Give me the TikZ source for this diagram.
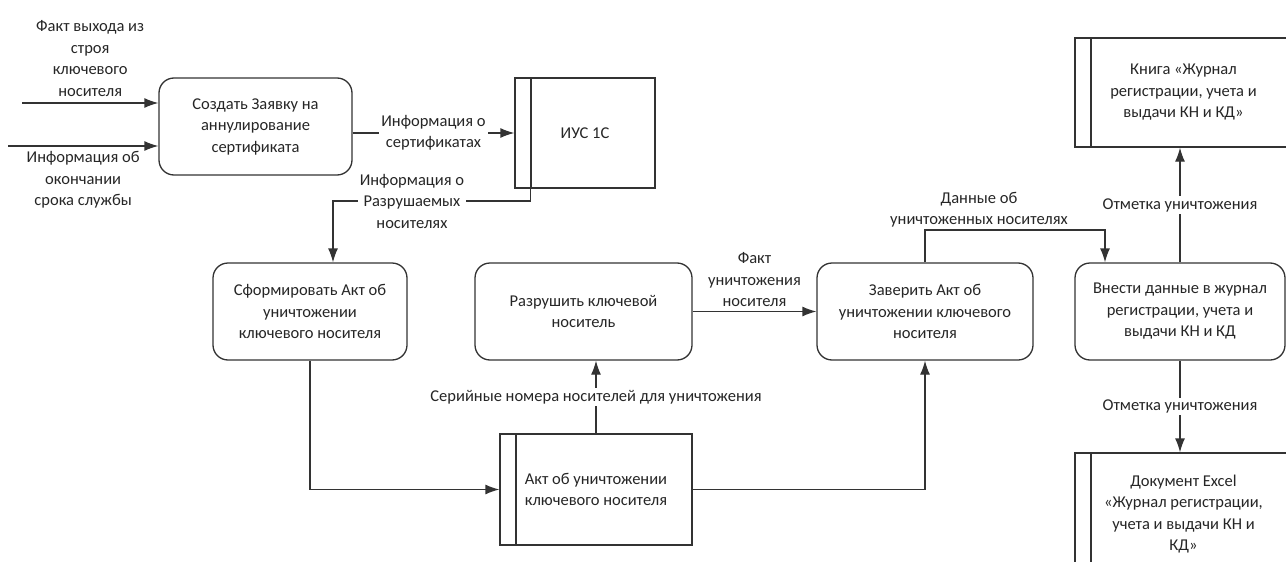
\documentclass[tikz,border=0pt]{standalone}
\usepackage{fontspec}
\setmainfont{Carlito}
\usepackage{tikz}
\usetikzlibrary{arrows.meta}

\begin{document}
\begin{tikzpicture}[x=1pt, y=-1pt, font=\fontsize{16.5}{21.5}\selectfont, text=black!85]
\tikzstyle{process} = [rectangle, rounded corners=15pt, draw=black!80, line width=1.3pt, inner sep=0pt, align=center, fill=white]
\tikzstyle{store} = [rectangle, draw=black!80, line width=1.3pt, inner sep=0pt, align=center, fill=white, path picture={\draw[black!80, line width=1.3pt] ([xshift=16pt]path picture bounding box.north west) -- ([xshift=16pt]path picture bounding box.south west);}]
\tikzstyle{flow} = [draw=black!80, line width=1.3pt, -{Latex[length=14pt, width=10pt]}]
\tikzstyle{note} = [align=center, inner sep=2pt]
\tikzstyle{lbl} = [note, fill=white]

\useasboundingbox (0,0) rectangle (1286,562);
\clip (0,0) rectangle (1286,562);

\node (create) [process, minimum width=193, minimum height=97] at (255.5,126.5) {Создать Заявку на\\аннулирование\\сертификата};
\node (ius)    [store, minimum width=140, minimum height=110] at (585,133) {ИУС 1С};
\node (form)   [process, minimum width=194, minimum height=97] at (310,311.5) {Сформировать Акт об\\уничтожении\\ключевого носителя};
\node (razr)   [process, minimum width=217, minimum height=97] at (583.5,311.5) {Разрушить ключевой\\носитель};
\node (zav)    [process, minimum width=216, minimum height=97] at (925,311.5) {Заверить Акт об\\уничтожении ключевого\\носителя};
\node (vnesti) [process, minimum width=210, minimum height=97] at (1180,311.5) {Внести данные в журнал\\регистрации, учета и\\выдачи КН и КД};
\node (akt)    [store, align=left, minimum width=192, minimum height=111] at (596,489.5) {Акт об уничтожении\\ключевого носителя};
\node (kniga)  [store, minimum width=217, minimum height=109] at (1183.5,92.5) {Книга «Журнал\\регистрации, учета и\\выдачи КН и КД»};
\node (doc)    [store, minimum width=217, minimum height=122] at (1183.5,514) {Документ Excel\\«Журнал регистрации,\\учета и выдачи КН и\\КД»};

\coordinate (in1) at (22,103);
\coordinate (in2) at (8,146);
\coordinate (bend) at (333,201);
\coordinate (dturn) at (1105,230);

\draw [flow] (in1) -- node[note, above=4pt] {Факт выхода из\\строя\\ключевого\\носителя} (in1 -| create.west);
\draw [flow] (in2) -- node[note, below=3pt] {Информация об\\окончании\\срока службы} (in2 -| create.west);
\draw [flow] (create.east |- ius.west) -- node[lbl] {Информация о\\сертификатах} (ius.west);
\draw [flow] ([xshift=16pt]ius.south west) |- node[lbl, pos=0.8] {Информация о\\Разрушаемых\\носителях} (bend) -- (bend |- form.north);
\draw [flow] (form.south) |- (akt.west);
\draw [flow] (akt.north) -- node[lbl] {Серийные номера носителей для уничтожения} (akt.north |- razr.south);
\draw [flow] (akt.east) -| (zav.south);
\draw [flow] (razr.east) -- node[note, above=2pt] {Факт\\уничтожения\\носителя} (zav.west);
\draw [flow] (zav.north) |- node[note, above, pos=0.65] {Данные об\\уничтоженных носителях} (dturn) -- (dturn |- vnesti.north);
\draw [flow] (vnesti.north) -- node[lbl] {Отметка уничтожения} (vnesti.north |- kniga.south);
\draw [flow] (vnesti.south) -- node[lbl] {Отметка уничтожения} (vnesti.south |- doc.north);

\end{tikzpicture}
\end{document}
